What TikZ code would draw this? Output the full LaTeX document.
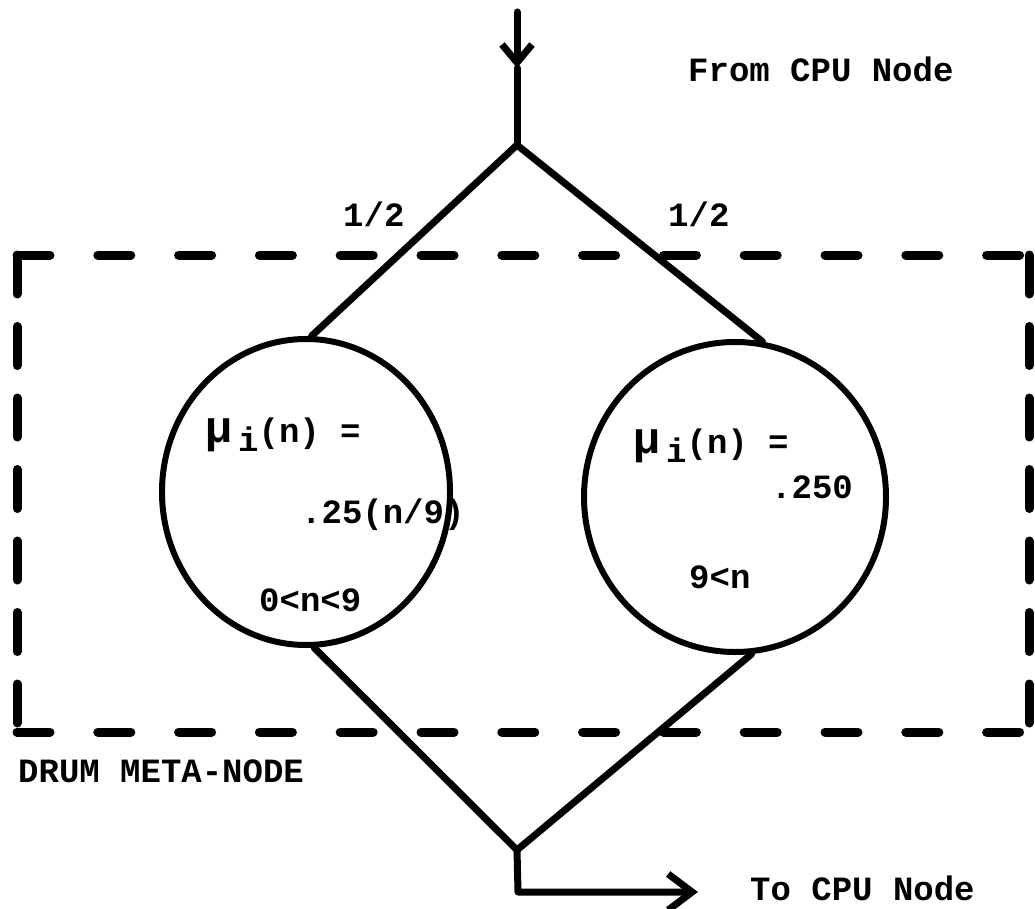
\documentclass[tikz,border=0pt]{standalone}
\usepackage{fontspec}
\setmainfont{Liberation Mono}
\usetikzlibrary{arrows.meta,shapes.geometric}

\tikzset{
  flow/.style={line width=7pt, line cap=round, line join=round},
  server/.style={ellipse, draw, line width=6pt, inner sep=0pt},
  label/.style={anchor=base west, inner sep=0pt, font=\fontsize{34}{40}\selectfont\bfseries},
  metabox/.style={line width=9pt, line cap=round},
  barb/.style={-{Straight Barb[length=18pt,width=30pt]}},
  bigbarb/.style={-{Straight Barb[length=24pt,width=36pt]}}
}
\newcommand{\mubig}{{\fontsize{45}{50}\selectfont μ}}

\begin{document}
\begin{tikzpicture}[x=1pt,y=-1pt]
\useasboundingbox (0,0) rectangle (1035,909);

% frame of the drum meta-node
\coordinate (tl) at (17,255);
\coordinate (tr) at (1029,255);
\coordinate (br) at (1029,732);
\coordinate (bl) at (17,732);
\draw[metabox, dash pattern=on 33pt off 47.8pt] (tl) -- (tr);
\draw[metabox, dash pattern=on 33pt off 47.8pt] (bl) -- (br);
\draw[metabox, dash pattern=on 39pt off 32.5pt] (tl) -- (bl);
\draw[metabox, dash pattern=on 39pt off 32.5pt] (tr) -- (br);

% the two service centres
\node[server, minimum width=288pt, minimum height=306pt] (L) at (306,492) {};
\node[server, minimum width=302pt, minimum height=310pt] (R) at (735,497) {};

% branching and joining points
\coordinate (src) at (517,12);
\coordinate (tip) at (517,68);
\coordinate (fork) at (517,145);
\coordinate (join) at (517,850);
\coordinate (turn) at (518,892);
\coordinate (out) at (698,892);

\draw[flow, barb] (src) -- (tip);
\draw[flow] (tip) -- (fork);
\draw[flow] (fork) -- (L.88);
\draw[flow] (fork) -- (R.80);
\draw[flow] (L.-87) -- (join);
\draw[flow] (R.-84) -- (join);
\draw[flow, bigbarb] (join) -- (turn) -- (out);

% labels
\node[label] (from) at (688,82) {From CPU Node};
\node[label] (pl) at (343,227) {1/2};
\node[label] (pr) at (668,226) {1/2};
\node[label] (meta) at (18,782) {DRUM META-NODE};
\node[label] (to) at (750,900) {To CPU Node};

% left centre: rate
\node[label] (lmu) at (205,442) {\mubig\hspace{6pt}\raisebox{-9pt}{i}(n) =};
\node[label] (lval) at (301,523) {.25(n/9)};
\node[label] (lrange) at (259,611) {0<n<9};

% right centre: rate
\node[label] (rmu) at (633,453) {\mubig\hspace{6pt}\raisebox{-9pt}{i}(n) =};
\node[label] (rval) at (771,498) {.250};
\node[label] (rrange) at (689,588) {9<n};
\end{tikzpicture}
\end{document}
